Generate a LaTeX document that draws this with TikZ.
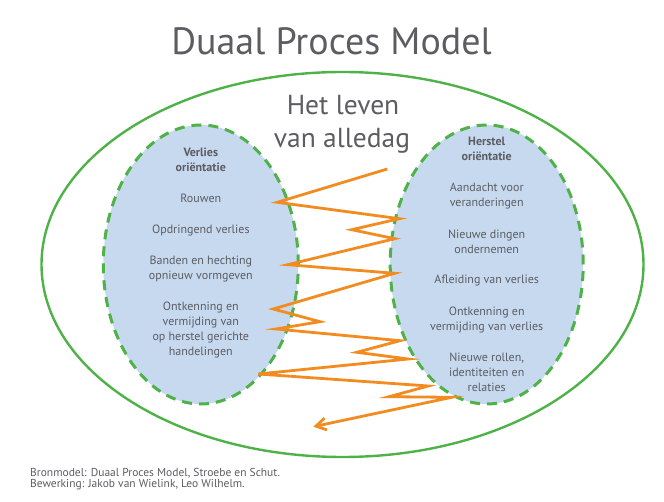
\documentclass[tikz,border=0pt]{standalone}
\usepackage{fontspec}
\setmainfont{PT Sans}
\usetikzlibrary{shapes.geometric}
\usetikzlibrary{arrows.meta}
\definecolor{rimgreen}{RGB}{78,178,72}
\definecolor{poolblue}{RGB}{198,217,239}
\definecolor{zigorange}{RGB}{242,140,32}
\definecolor{inkgray}{RGB}{92,93,98}
\def\thickness{3pt}
\tikzstyle{rim}=[ellipse, draw=rimgreen, line width=2.4pt, inner sep=0pt]
\tikzstyle{pool}=[ellipse, draw=rimgreen, fill=poolblue, line width=\thickness, dash pattern=on 10pt off 7pt, inner sep=0pt, minimum height=279pt]
\tikzstyle{items}=[align=center, text=inkgray, font=\fontsize{12}{15}\selectfont, inner sep=0pt, anchor=north]
\tikzstyle{zigzag}=[draw=zigorange, line width=2.8pt, -{Straight Barb[length=10pt,width=12pt]}]

\begin{document}
\begin{tikzpicture}[x=1pt, y=-1pt]
\useasboundingbox (0,0) rectangle (664,502);
\node [rim, minimum width=602pt, minimum height=385pt] (leven) at (342.5,264.5) {};
\node [pool, minimum width=195pt] (verlies) at (200.8,264.5) {};
\node [pool, minimum width=193pt] (herstel) at (486.7,264.5) {};
% titels
\node [anchor=base, text=inkgray, font=\fontsize{38}{40}\selectfont] (titel) at (331.5,55) {Duaal Proces Model};
\node [anchor=base, text=inkgray, font=\fontsize{27.5}{33}\selectfont] (hetleven) at (343,115) {Het leven};
\node [anchor=base, text=inkgray, font=\fontsize{27.5}{33}\selectfont] (alledag) at (342,148) {van alledag};
% inhoud van de ovalen
\node [items] (verliestekst) at (200.8,148) {\textbf{Verlies}\\\textbf{oriëntatie}\\[16pt]Rouwen\\[16pt]Opdringend verlies\\[16pt]Banden en hechting\\opnieuw vormgeven\\[16pt]Ontkenning en\\vermijding van\\op herstel gerichte\\handelingen};
\node [items] (hersteltekst) at (486.7,136.5) {\textbf{Herstel}\\\textbf{oriëntatie}\\[16.5pt]Aandacht voor\\veranderingen\\[16.5pt]Nieuwe dingen\\ondernemen\\[15.5pt]Afleiding van verlies\\[16.5pt]Ontkenning en\\vermijding van verlies\\[16.5pt]Nieuwe rollen,\\identiteiten en\\relaties};
% heen en weer
\draw [zigzag] (387.3,169) -- (277.3,202.3) -- (399.3,218.7) -- (351.7,229.7) -- (394.7,238.7)
  -- (287.7,264.7) -- (394.7,273.3) -- (273.3,309) -- (320,321.7) -- (276,329) -- (400,340.7)
  -- (356.7,352.3) -- (408.3,359) -- (258.3,374) -- (428.3,386) -- (389,396.7) -- (451.7,397.3)
  -- (313.3,426.7);
\node [anchor=north west, align=left, text=inkgray, font=\fontsize{11.5}{10.7}\selectfont, inner sep=0pt] (bron) at (30,468) {Bronmodel: Duaal Proces Model, Stroebe en Schut.\\Bewerking: Jakob van Wielink, Leo Wilhelm.};
\end{tikzpicture}
\end{document}
